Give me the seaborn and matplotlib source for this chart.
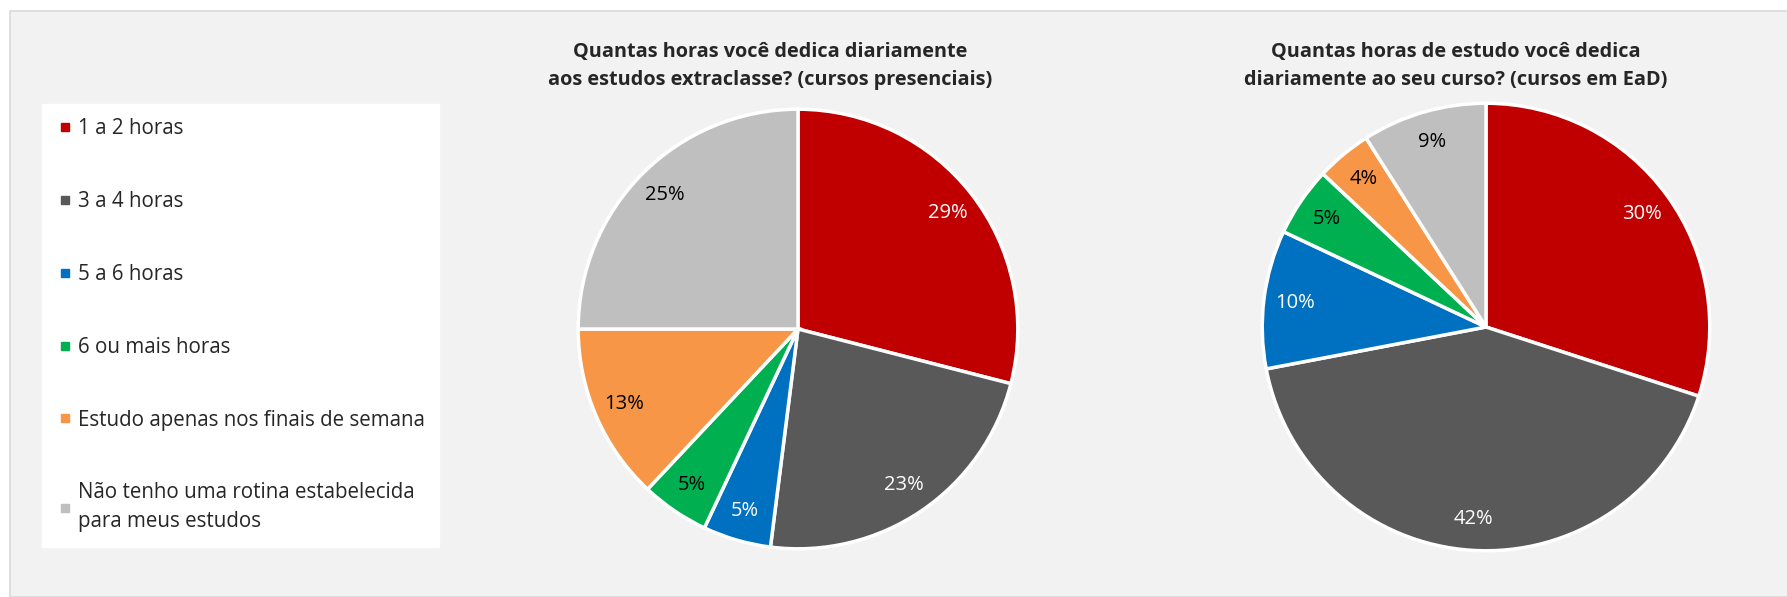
import matplotlib
matplotlib.use('Agg')
import matplotlib.pyplot as plt
from matplotlib.lines import Line2D
from matplotlib.patches import Rectangle
import seaborn as sns

# Categorias e valores (%)
categorias = ['1 a 2 horas', '3 a 4 horas', '5 a 6 horas', '6 ou mais horas',
              'Estudo apenas nos finais de semana',
              'Não tenho uma rotina estabelecida\npara meus estudos']
presenciais = [29, 23, 5, 5, 13, 25]
ead = [30, 42, 10, 5, 4, 9]

titulo_presenciais = 'Quantas horas você dedica diariamente\naos estudos extraclasse? (cursos presenciais)'
titulo_ead = 'Quantas horas de estudo você dedica\ndiariamente ao seu curso? (cursos em EaD)'

sns.set_style('white')
plt.rcParams['font.family'] = ['Open Sans', 'DejaVu Sans']

cores = sns.color_palette(['#C00000', '#595959', '#0070C0', '#00B050', '#F79646', '#BFBFBF'])
cor_texto = ['white', 'white', 'white', 'black', 'black', 'black']

W, H = 1787, 597
fig = plt.figure(figsize=(W / 100, H / 100), dpi=100, facecolor='white')

# fundo cinza da área do gráfico
fig.patches.append(Rectangle((10 / W, 0), 1, 1 - 11 / H, transform=fig.transFigure,
                             facecolor='#F2F2F2', edgecolor='#D9D9D9', linewidth=1.2, zorder=-10))


def desenha_pizza(cx, cy, r, valores, titulo, tx):
    ax = fig.add_axes([(cx - r) / W, (H - cy - r) / H, 2 * r / W, 2 * r / H])
    ax.patch.set_visible(False)
    wedges, textos, pcts = ax.pie(
        valores, colors=cores, startangle=90, counterclock=False,
        autopct='%d%%', pctdistance=0.86,
        wedgeprops=dict(edgecolor='white', linewidth=2.5),
        textprops=dict(fontsize=14.5))
    for t, c in zip(pcts, cor_texto):
        t.set_color(c)
    ax.set_xlim(-1.01, 1.01)
    ax.set_ylim(-1.01, 1.01)
    ax.set_aspect('equal')
    fig.text(tx / W, 1 - 66 / H, titulo, ha='center', va='center', fontsize=14.3,
             fontweight='bold', linespacing=1.6)


desenha_pizza(798, 329, 222, presenciais, titulo_presenciais, 770)
desenha_pizza(1486, 327, 226, ead, titulo_ead, 1456)

# legenda
handles = [Line2D([], [], marker='s', linestyle='', markersize=6, color=c) for c in cores]
leg = fig.legend(handles, categorias, loc='upper left',
                 bbox_to_anchor=(42 / W, 1 - 104 / H), fontsize=14.8,
                 frameon=True, fancybox=False, edgecolor='white', facecolor='white',
                 framealpha=1, labelspacing=2.52, handletextpad=0.25,
                 handlelength=0.8, borderpad=0.7, borderaxespad=0)
for t in leg.get_texts():
    t.set_linespacing(1.5)

fig.savefig('out.png', dpi=100, facecolor=fig.get_facecolor())
